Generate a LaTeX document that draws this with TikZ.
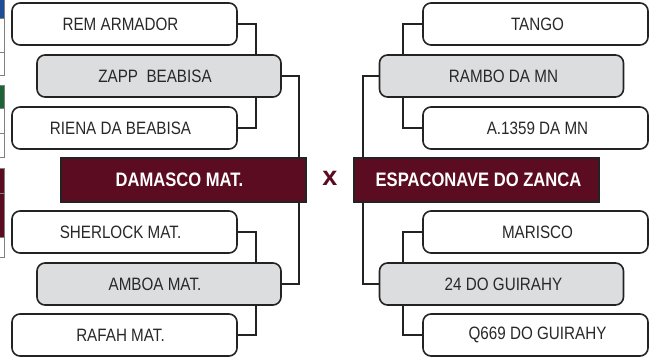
\documentclass[tikz,border=0pt]{standalone}
\usepackage{fontspec}
\setmainfont{Liberation Sans}[FakeStretch=0.85]
\newfontfamily\xfont{Liberation Sans}
\usetikzlibrary{calc}
\definecolor{maroon}{RGB}{92,12,32}
\definecolor{boxgray}{RGB}{220,221,223}
\definecolor{edge}{RGB}{35,35,35}
\definecolor{txt}{RGB}{40,40,40}
\definecolor{tabblue}{RGB}{30,78,150}
\definecolor{tabgreen}{RGB}{28,100,55}
\begin{document}
\begin{tikzpicture}[x=1pt,y=-1pt,
  team/.style={draw=edge,line width=1.6pt,rounded corners=8pt,fill=white,
    minimum width=225pt,minimum height=42pt,inner sep=0pt,text=txt,
    font=\fontsize{17.9}{20}\selectfont},
  winner/.style={team,fill=boxgray,minimum width=244pt},
  final/.style={draw=edge,line width=1.2pt,fill=maroon,minimum width=245pt,
    minimum height=44pt,inner sep=0pt,text=white,
    font=\fontsize{19.5}{22}\bfseries\selectfont},
  lshift/.style={execute at begin node={\hspace*{-8pt}}},
  rshift/.style={execute at begin node={\hspace*{4pt}}},
  link/.style={draw=edge,line width=2.5pt},
  strip/.style={draw=gray,line width=0.6pt}]
\useasboundingbox (0,0) rectangle (656,358);
\fill[white] (0,0) rectangle (656,358);
% left edge strip (partly cut off)
\filldraw[strip,fill=tabblue] (-5,-2) rectangle (4.5,18);
\filldraw[strip,fill=white] (-5,18) rectangle (4.5,52);
\filldraw[strip,fill=white] (-5,52) rectangle (4.5,75);
\filldraw[strip,fill=tabgreen] (-5,85) rectangle (4.5,108);
\filldraw[strip,fill=white] (-5,108) rectangle (4.5,133);
\filldraw[strip,fill=white] (-5,133) rectangle (4.5,157);
\filldraw[strip,fill=maroon] (-5,168) rectangle (4.5,193);
\filldraw[strip,fill=maroon] (-5,193) rectangle (4.5,237);
\filldraw[strip,fill=white] (-5,237) rectangle (4.5,257);
% left bracket
\node[team,lshift] (rem) at (124.5,24) {REM ARMADOR};
\node[winner,lshift] (zapp) at (159,76) {ZAPP\ \ BEABISA};
\node[team,lshift] (riena) at (124.5,128) {RIENA DA BEABISA};
\node[final,lshift] (damasco) at (183.5,180) {DAMASCO MAT.};
\node[team,lshift] (sherlock) at (124.5,232) {SHERLOCK MAT.};
\node[winner,lshift] (amboa) at (159,284) {AMBOA MAT.};
\node[team,lshift] (rafah) at (124.5,335) {RAFAH MAT.};
% right bracket
\node[team,rshift] (tango) at (535.5,24) {TANGO};
\node[winner,rshift] (rambo) at (501.5,76) {RAMBO DA MN};
\node[team,rshift] (a1359) at (535.5,128) {A.1359 DA MN};
\node[final,rshift] (espaco) at (476.5,180) {ESPACONAVE DO ZANCA};
\node[team,rshift] (marisco) at (535.5,232) {MARISCO};
\node[winner,rshift] (guirahy) at (501.5,284) {24 DO GUIRAHY};
\node[team,rshift] (q669) at (535.5,335) {Q669 DO GUIRAHY};
% versus
\node[text=maroon,font=\xfont\fontsize{27}{30}\bfseries\selectfont,inner sep=0pt] (vs) at (330,178) {x};
% junction coordinates
\coordinate (jl1) at (256,0);
\coordinate (jl2) at (299,0);
\coordinate (jr1) at (403,0);
\coordinate (jr2) at (363,0);
% left connectors
\draw[link] (rem.east) -- (jl1 |- rem.east) -- (jl1 |- zapp.north);
\draw[link] (riena.east) -- (jl1 |- riena.east) -- (jl1 |- zapp.south);
\draw[link] (zapp.east) -- (jl2 |- zapp.east) -- (jl2 |- damasco.north);
\draw[link] (sherlock.east) -- (jl1 |- sherlock.east) -- (jl1 |- amboa.north);
\draw[link] (rafah.east) -- (jl1 |- rafah.east) -- (jl1 |- amboa.south);
\draw[link] (amboa.east) -- (jl2 |- amboa.east) -- (jl2 |- damasco.south);
% right connectors
\draw[link] (tango.west) -- (jr1 |- tango.west) -- (jr1 |- rambo.north);
\draw[link] (a1359.west) -- (jr1 |- a1359.west) -- (jr1 |- rambo.south);
\draw[link] (rambo.west) -- (jr2 |- rambo.west) -- (jr2 |- espaco.north);
\draw[link] (marisco.west) -- (jr1 |- marisco.west) -- (jr1 |- guirahy.north);
\draw[link] (q669.west) -- (jr1 |- q669.west) -- (jr1 |- guirahy.south);
\draw[link] (guirahy.west) -- (jr2 |- guirahy.west) -- (jr2 |- espaco.south);
\end{tikzpicture}
\end{document}
